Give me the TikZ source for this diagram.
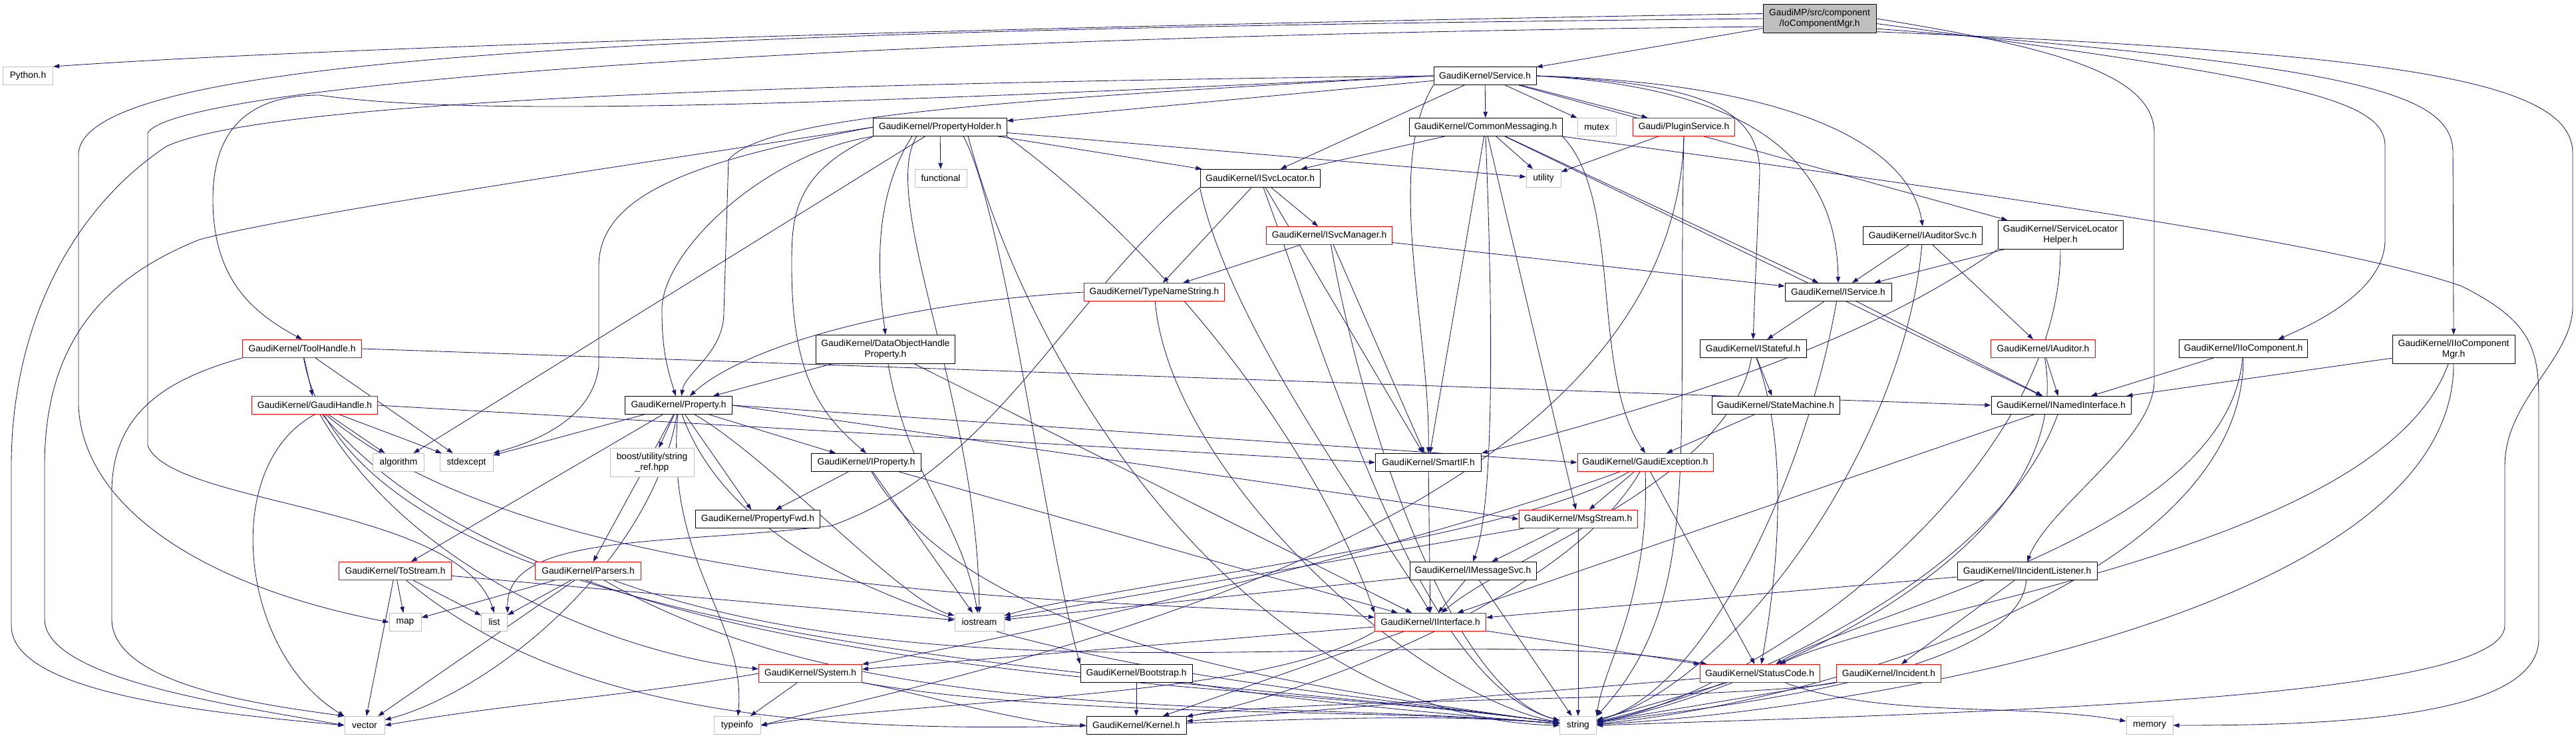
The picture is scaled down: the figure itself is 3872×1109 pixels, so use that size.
\documentclass[tikz,border=0pt]{standalone}
\usepackage{fontspec}
\setmainfont{Liberation Sans}
\usetikzlibrary{arrows.meta,backgrounds}
\definecolor{edgeblue}{RGB}{25,25,112}
\definecolor{boxgray}{RGB}{191,191,191}
\begin{document}
\begin{tikzpicture}[line cap=round,line join=round,>={Triangle[length=6.5pt,width=4.6pt]},x=0.025cm,y=0.025cm,
  hdr/.style={draw=black,fill=white,line width=0.7pt,minimum height=0.675cm,inner xsep=1pt,inner ysep=1pt,align=center,font=\fontsize{9.8}{11.4}\selectfont},
  redhdr/.style={hdr,draw=red},
  stdhdr/.style={hdr,draw=boxgray},
  dep/.style={->,draw=edgeblue,line width=0.6pt}]

\useasboundingbox (0,0) rectangle (3872,-1109);

% headers
\node[hdr,fill=boxgray,minimum width=4.25cm,minimum height=1.05cm] (root) at (2735,-28) {GaudiMP/src/component\\/IoComponentMgr.h};
\node[stdhdr,minimum width=1.875cm] (python) at (42,-114) {Python.h};
\node[hdr,minimum width=3.85cm] (service) at (2232,-114) {GaudiKernel/Service.h};
\node[hdr,minimum width=5cm] (propholder) at (1413,-191) {GaudiKernel/PropertyHolder.h};
\node[stdhdr,minimum width=1.95cm] (functional) at (1414,-268) {functional};
\node[hdr,minimum width=5.75cm] (commsg) at (2233,-191) {GaudiKernel/CommonMessaging.h};
\node[stdhdr,minimum width=1.45cm] (mutex) at (2400,-191) {mutex};
\node[redhdr,minimum width=3.825cm] (plugin) at (2531,-191) {Gaudi/PluginService.h};
\node[hdr,minimum width=4.5cm] (svcloc) at (1894,-268) {GaudiKernel/ISvcLocator.h};
\node[stdhdr,minimum width=1.3cm] (utility) at (2320,-268) {utility};
\node[redhdr,minimum width=4.725cm] (svcmgr) at (1998,-354) {GaudiKernel/ISvcManager.h};
\node[hdr,minimum width=4.475cm] (auditorsvc) at (2890,-354) {GaudiKernel/IAuditorSvc.h};
\node[hdr,minimum width=4.7cm,minimum height=1.075cm] (slhelper) at (3097,-353) {GaudiKernel/ServiceLocator\\Helper.h};
\node[redhdr,minimum width=5.275cm] (typename) at (1735,-439) {GaudiKernel/TypeNameString.h};
\node[hdr,minimum width=4cm] (iservice) at (2763,-439) {GaudiKernel/IService.h};
\node[redhdr,minimum width=4.475cm] (toolhandle) at (454,-524) {GaudiKernel/ToolHandle.h};
\node[hdr,minimum width=5.2cm,minimum height=1.075cm] (dohprop) at (1331,-525) {GaudiKernel/DataObjectHandle\\Property.h};
\node[hdr,minimum width=4cm] (istateful) at (2635,-524) {GaudiKernel/IStateful.h};
\node[redhdr,minimum width=3.925cm] (iauditor) at (3071,-524) {GaudiKernel/IAuditor.h};
\node[hdr,minimum width=4.825cm] (iiocomp) at (3372,-524) {GaudiKernel/IIoComponent.h};
\node[hdr,minimum width=4.6cm,minimum height=1.075cm] (iiocompmgr) at (3688,-525) {GaudiKernel/IIoComponent\\Mgr.h};
\node[redhdr,minimum width=4.7cm] (gaudihandle) at (473,-609) {GaudiKernel/GaudiHandle.h};
\node[hdr,minimum width=4.025cm] (property) at (1020,-609) {GaudiKernel/Property.h};
\node[hdr,minimum width=4.8cm] (statemachine) at (2669,-609) {GaudiKernel/StateMachine.h};
\node[hdr,minimum width=5.25cm] (inamed) at (3098,-609) {GaudiKernel/INamedInterface.h};
\node[stdhdr,minimum width=1.925cm] (algorithm) at (599,-695) {algorithm};
\node[stdhdr,minimum width=2cm] (stdexcept) at (701,-695) {stdexcept};
\node[stdhdr,minimum width=3.15cm,minimum height=1.075cm] (boostref) at (980,-695) {boost/utility/string\\\_ref.hpp};
\node[hdr,minimum width=4.125cm] (iproperty) at (1302,-695) {GaudiKernel/IProperty.h};
\node[hdr,minimum width=3.975cm] (smartif) at (2147,-695) {GaudiKernel/SmartIF.h};
\node[redhdr,minimum width=5.1cm] (gexception) at (2473,-695) {GaudiKernel/GaudiException.h};
\node[hdr,minimum width=4.675cm] (propfwd) at (1139,-780) {GaudiKernel/PropertyFwd.h};
\node[redhdr,minimum width=4.45cm] (msgstream) at (2372,-780) {GaudiKernel/MsgStream.h};
\node[redhdr,minimum width=4.225cm] (tostream) at (594,-858) {GaudiKernel/ToStream.h};
\node[redhdr,minimum width=3.95cm] (parsers) at (884,-858) {GaudiKernel/Parsers.h};
\node[hdr,minimum width=4.75cm] (imsgsvc) at (2214,-858) {GaudiKernel/IMessageSvc.h};
\node[hdr,minimum width=5.25cm] (iincident) at (3047,-858) {GaudiKernel/IIncidentListener.h};
\node[stdhdr,minimum width=1.2cm] (map) at (609,-935) {map};
\node[stdhdr,minimum width=0.975cm] (list) at (743,-935) {list};
\node[stdhdr,minimum width=1.85cm] (iostream) at (1472,-935) {iostream};
\node[redhdr,minimum width=4.175cm] (iinterface) at (2150,-935) {GaudiKernel/IInterface.h};
\node[redhdr,minimum width=3.875cm] (system) at (1218,-1012) {GaudiKernel/System.h};
\node[hdr,minimum width=4.2cm] (bootstrap) at (1708,-1012) {GaudiKernel/Bootstrap.h};
\node[redhdr,minimum width=4.5cm] (statuscode) at (2645,-1012) {GaudiKernel/StatusCode.h};
\node[redhdr,minimum width=3.925cm] (incident) at (2839,-1012) {GaudiKernel/Incident.h};
\node[stdhdr,minimum width=1.5cm] (vector) at (548,-1090) {vector};
\node[stdhdr,minimum width=1.75cm] (typeinfo) at (1108,-1090) {typeinfo};
\node[hdr,minimum width=3.75cm] (kernel) at (1708,-1090) {GaudiKernel/Kernel.h};
\node[stdhdr,minimum width=1.375cm] (string) at (2372,-1090) {string};
\node[stdhdr,minimum width=1.75cm] (memory) at (3231,-1090) {memory};

\begin{pgfonlayer}{background}
% IoComponentMgr.h
\draw[dep] (root.175) .. controls (1600,-38) and (500,-70) .. (python.north east);
\draw[dep] (root) -- (service);
\draw[dep] (root.west) .. controls (900,-45) and (130,-90) .. (118,-230) -- (118,-610) .. controls (125,-760) and (300,-880) .. (map.west);
\draw[dep] (root.188) .. controls (1200,-55) and (260,-130) .. (222,-200) -- (222,-670) .. controls (260,-760) and (690,-760) .. (list.north);
\draw[dep] (root.east) .. controls (3080,-70) and (3238,-110) .. (3238,-200) -- (3238,-570) .. controls (3240,-660) and (3080,-760) .. (iincident.north);
\draw[dep] (root.-5) .. controls (3458,-120) and (3585,-150) .. (3585,-220) -- (3585,-360) .. controls (3585,-440) and (3470,-490) .. (iiocomp.15);
\draw[dep] (root.-10) .. controls (3550,-100) and (3687,-140) .. (3687,-230) -- (iiocompmgr.north);
\draw[dep] (root.-13) .. controls (3600,-80) and (3867,-120) .. (3867,-230) -- (3867,-460) .. controls (3867,-540) and (3765,-600) .. (3765,-700) -- (3765,-940) .. controls (3765,-1050) and (3000,-1070) .. (string.east);

% Service.h
\draw[dep] (service) -- (propholder);
\draw[dep] (service) -- (commsg);
\draw[dep] (service) -- (mutex);
\draw[dep] (service) -- (plugin);
\draw[dep] (service) -- (svcloc);
\draw[dep] (service.east) .. controls (2700,-125) and (2870,-220) .. (auditorsvc.north);
\draw[dep] (service) -- (slhelper);
\draw[dep] (service.east) .. controls (2600,-130) and (2760,-220) .. (iservice.north);
\draw[dep] (service.east) .. controls (2550,-125) and (2645,-160) .. (2645,-260) -- (istateful.north);
\draw[dep] (service.south west) .. controls (2080,-250) and (2150,-500) .. (smartif.north);
\draw[dep] (service.west) .. controls (1500,-150) and (1150,-175) .. (1095,-240) -- (1088,-470) .. controls (1088,-530) and (1030,-560) .. ([xshift=3pt]property.north);
\draw[dep] (service.west) .. controls (1200,-160) and (700,-175) .. (480,-143) .. controls (350,-143) and (320,-220) .. (320,-300) .. controls (320,-420) and (380,-470) .. (toolhandle.north);
\draw[dep] (service.west) .. controls (1200,-125) and (400,-150) .. (250,-220) .. controls (100,-320) and (17,-500) .. (17,-700) -- (17,-940) .. controls (17,-1040) and (300,-1070) .. (vector.west);

% PropertyHolder.h
\draw[dep] (propholder) -- (functional);
\draw[dep] (propholder) -- (svcloc);
\draw[dep] (propholder) -- (utility);
\draw[dep] (propholder.south west) .. controls (1150,-230) and (990,-380) .. (995,-470) .. controls (995,-530) and (1005,-560) .. ([xshift=-3pt]property.north);
\draw[dep] (propholder.south west) .. controls (1190,-260) and (1190,-330) .. (1190,-400) .. controls (1190,-560) and (1230,-620) .. (iproperty.north);
\draw[dep] ([xshift=-30pt]propholder.south) .. controls (1310,-300) and (1320,-420) .. (dohprop.north);
\draw[dep] (propholder) -- (algorithm);
\draw[dep] (propholder.west) .. controls (1050,-240) and (900,-290) .. (900,-400) -- (900,-550) .. controls (890,-640) and (780,-670) .. (stdexcept.north east);
\draw[dep] (propholder.west) .. controls (1000,-240) and (450,-320) .. (300,-360) .. controls (150,-420) and (67,-520) .. (67,-700) -- (67,-930) .. controls (67,-1020) and (350,-1060) .. (vector.west);
\draw[dep] ([xshift=30pt]propholder.south) .. controls (1560,-600) and (1900,-1080) .. (string.west);
\draw[dep] ([xshift=-25pt]propholder.south) .. controls (1320,-300) and (1470,-600) .. (iostream.north);
\draw[dep] ([xshift=25pt]propholder.south) .. controls (1510,-320) and (1570,-800) .. (bootstrap.north west);
\draw[dep] (propholder.south east) .. controls (1780,-400) and (1990,-700) .. (iinterface.north west);

% CommonMessaging.h
\draw[dep] (commsg) -- (svcloc);
\draw[dep] (commsg) -- (utility);
\draw[dep] (commsg) -- (iservice);
\draw[dep] (commsg) -- (msgstream);
\draw[dep] (commsg.south) .. controls (2245,-500) and (2245,-760) .. (imsgsvc.north);
\draw[dep] (commsg.south east) .. controls (2440,-300) and (2390,-560) .. (gexception.north);
\draw[dep] (commsg) -- (smartif);
\draw[dep] (commsg) -- (inamed);
\draw[dep] (commsg.south east) .. controls (2900,-280) and (3500,-360) .. (3700,-430) .. controls (3800,-480) and (3816,-520) .. (3816,-600) -- (3816,-960) .. controls (3816,-1080) and (3500,-1090) .. (memory.east);

% PluginService.h
\draw[dep] (plugin) -- (utility);
\draw[dep] (plugin.south) .. controls (2520,-700) and (2560,-900) .. (string.north east);
\draw[dep] (plugin.south) .. controls (2515,-800) and (1500,-1000) .. (typeinfo.east);

% ISvcLocator.h
\draw[dep] (svcloc) -- (typename);
\draw[dep] (svcloc) -- (svcmgr);
\draw[dep] (svcloc) -- (smartif);
\draw[dep] (svcloc.south west) .. controls (1850,-500) and (2080,-800) .. (iinterface.north);
\draw[dep] (svcloc.south west) .. controls (1600,-450) and (1500,-700) .. (1250,-790) .. controls (1000,-820) and (760,-800) .. (list.north east);
\draw[dep] (svcloc) .. controls +(-70:8cm) and +(165:6cm) .. (string);

% ISvcManager.h
\draw[dep] (svcmgr) -- (typename);
\draw[dep] (svcmgr) -- (iservice);
\draw[dep] (svcmgr) -- (smartif);
\draw[dep] (svcmgr) .. controls +(-80:7cm) and +(165:5cm) .. (string);

% TypeNameString.h
\draw[dep] (typename.west) .. controls (1350,-455) and (1120,-520) .. ([xshift=12pt]property.north);
\draw[dep] (typename) .. controls +(-85:7cm) and +(170:6cm) .. (string);

% IAuditorSvc.h
\draw[dep] (auditorsvc) -- (iservice);
\draw[dep] (auditorsvc) -- (iauditor);
\draw[dep] (auditorsvc) .. controls +(-95:8cm) and +(15:6cm) .. (string);

% ServiceLocatorHelper.h
\draw[dep] (slhelper) -- (iservice);
\draw[dep] (slhelper.south west) .. controls (2850,-480) and (2650,-570) .. (smartif.north east);
\draw[dep] (slhelper) .. controls +(-90:9cm) and +(10:7cm) .. (string);

% IService.h
\draw[dep] (iservice) -- (istateful);
\draw[dep] (iservice) -- (inamed);
\draw[dep] (iservice) .. controls +(-100:7cm) and +(15:5cm) .. (string);

% IStateful.h
\draw[dep] (istateful) -- (statemachine);
\draw[dep] (istateful) .. controls +(-100:5cm) and +(40:4cm) .. (iinterface);
\draw[dep] (istateful) .. controls +(-70:4cm) and +(80:4cm) .. (statuscode);
\draw[dep] (statemachine) -- (gexception);

% IAuditor.h
\draw[dep] (iauditor) -- (inamed);
\draw[dep] (iauditor) .. controls +(-80:8cm) and +(10:6cm) .. (string);

% IIoComponent.h
\draw[dep] (iiocomp) -- (inamed);
\draw[dep] (iiocomp) .. controls +(-95:7cm) and +(30:5cm) .. (statuscode);
\draw[dep] (iiocomp) .. controls +(-90:9cm) and +(5:8cm) .. (string);

% IIoComponentMgr.h
\draw[dep] (iiocompmgr) -- (inamed);
\draw[dep] (iiocompmgr) .. controls +(-110:8cm) and +(25:6cm) .. (statuscode);
\draw[dep] (iiocompmgr) .. controls +(-90:10cm) and +(3:10cm) .. (string);

% IIncidentListener.h
\draw[dep] (iincident) -- (iinterface);
\draw[dep] (iincident) -- (incident);
\draw[dep] (iincident) .. controls +(-95:4cm) and +(8:5cm) .. (string);
\draw[dep] (incident) -- (string);
\draw[dep] (incident) .. controls +(-170:6cm) and +(10:6cm) .. (kernel);

% ToolHandle.h
\draw[dep] (toolhandle) -- (gaudihandle);
\draw[dep] (toolhandle.east) -- (inamed.west);
\draw[dep] (toolhandle) -- (stdexcept);
\draw[dep] (toolhandle.south west) .. controls (250,-570) and (168,-620) .. (168,-740) -- (168,-930) .. controls (168,-1030) and (400,-1060) .. (vector.north west);
\draw[dep] (toolhandle) .. controls +(-80:12cm) and +(172:15cm) .. (string);

% GaudiHandle.h
\draw[dep] (gaudihandle) -- (algorithm);
\draw[dep] (gaudihandle) -- (stdexcept);
\draw[dep] (gaudihandle.east) -- (smartif.west);
\draw[dep] (gaudihandle) .. controls +(-40:12cm) and +(175:10cm) .. (iinterface);
\draw[dep] (gaudihandle) .. controls +(-60:8cm) and +(175:6cm) .. (system);
\draw[dep] (gaudihandle.south) .. controls (330,-700) and (360,-980) .. (vector.north west);
\draw[dep] (gaudihandle) .. controls +(-50:14cm) and +(172:14cm) .. (string);

% Property.h
\draw[dep] (property) -- (stdexcept);
\draw[dep] (property) -- (boostref);
\draw[dep] (property) -- (iproperty);
\draw[dep] (property) -- (propfwd);
\draw[dep] (property.east) -- (gexception.west);
\draw[dep] (property) -- (tostream);
\draw[dep] (property) -- (parsers);
\draw[dep] (property) .. controls +(-70:10cm) and +(172:12cm) .. (string);
\draw[dep] (property) .. controls +(-95:6cm) and +(85:4cm) .. (typeinfo);
\draw[dep] (property) .. controls +(-30:4cm) and +(165:3cm) .. (iostream);
\draw[dep] (property.east) -- (msgstream.west);
\draw[dep] (property) .. controls +(-100:6cm) and +(15:5cm) .. (vector);

% DataObjectHandleProperty.h
\draw[dep] (dohprop) -- (property);
\draw[dep] (dohprop) .. controls +(-80:5cm) and +(100:4cm) .. (iostream);
\draw[dep] (dohprop) -- (iinterface);

% IProperty.h
\draw[dep] (iproperty) -- (propfwd);
\draw[dep] (iproperty) -- (iostream);
\draw[dep] (iproperty) -- (iinterface);
\draw[dep] (iproperty) .. controls +(-60:8cm) and +(172:10cm) .. (string);
\draw[dep] (smartif) -- (iinterface);

% GaudiException.h
\draw[dep] (gexception) -- (statuscode);
\draw[dep] (gexception.south) .. controls (2480,-900) and (2410,-1000) .. (string.north east);
\draw[dep] (gexception) .. controls +(-150:6cm) and +(15:6cm) .. (iostream);
\draw[dep] (gexception) -- (msgstream);
\draw[dep] (gexception) .. controls +(-160:10cm) and +(10:8cm) .. (system);
\draw[dep] (gexception) .. controls +(-120:6cm) and +(10:6cm) .. (kernel);

% MsgStream.h
\draw[dep] (msgstream) -- (imsgsvc);
\draw[dep] (msgstream) -- (string);
\draw[dep] (msgstream) -- (iostream);
\draw[dep] (imsgsvc) -- (iinterface);
\draw[dep] (imsgsvc) -- (string);
\draw[dep] (imsgsvc) -- (iostream);
\draw[dep] (inamed) -- (iinterface);
\draw[dep] (inamed) .. controls +(-110:7cm) and +(12:6cm) .. (string);

% ToStream.h, Parsers.h
\draw[dep] (tostream) -- (map);
\draw[dep] (tostream) -- (list);
\draw[dep] (tostream) -- (vector);
\draw[dep] (tostream) -- (iostream);
\draw[dep] (tostream) .. controls +(-40:14cm) and +(175:14cm) .. (string);
\draw[dep] (parsers) -- (map);
\draw[dep] (parsers) -- (list);
\draw[dep] (parsers) -- (vector);
\draw[dep] (parsers) .. controls +(-30:12cm) and +(175:12cm) .. (string);
\draw[dep] (parsers) .. controls +(-20:15cm) and +(170:12cm) .. (statuscode);

% IInterface.h
\draw[dep] (iinterface) -- (system);
\draw[dep] (iinterface) -- (statuscode);
\draw[dep] (iinterface) -- (kernel);
\draw[dep] (iinterface.south west) .. controls (1900,-1050) and (1400,-1050) .. (typeinfo.east);

% System.h, Bootstrap.h, StatusCode.h
\draw[dep] (system) .. controls +(-10:4cm) and +(180:4cm) .. (kernel);
\draw[dep] (system) -- (typeinfo);
\draw[dep] (system) .. controls +(-10:10cm) and +(175:8cm) .. (string);
\draw[dep] (system.west) .. controls +(190:5cm) and +(10:5cm) .. (vector.east);
\draw[dep] (bootstrap) -- (kernel);
\draw[dep] (bootstrap) .. controls +(-10:6cm) and +(175:5cm) .. (string);
\draw[dep] (statuscode) -- (kernel);
\draw[dep] (statuscode) -- (string);
\draw[dep] (statuscode) .. controls +(-20:5cm) and +(170:5cm) .. (memory);
\end{pgfonlayer}
\end{tikzpicture}
\end{document}
